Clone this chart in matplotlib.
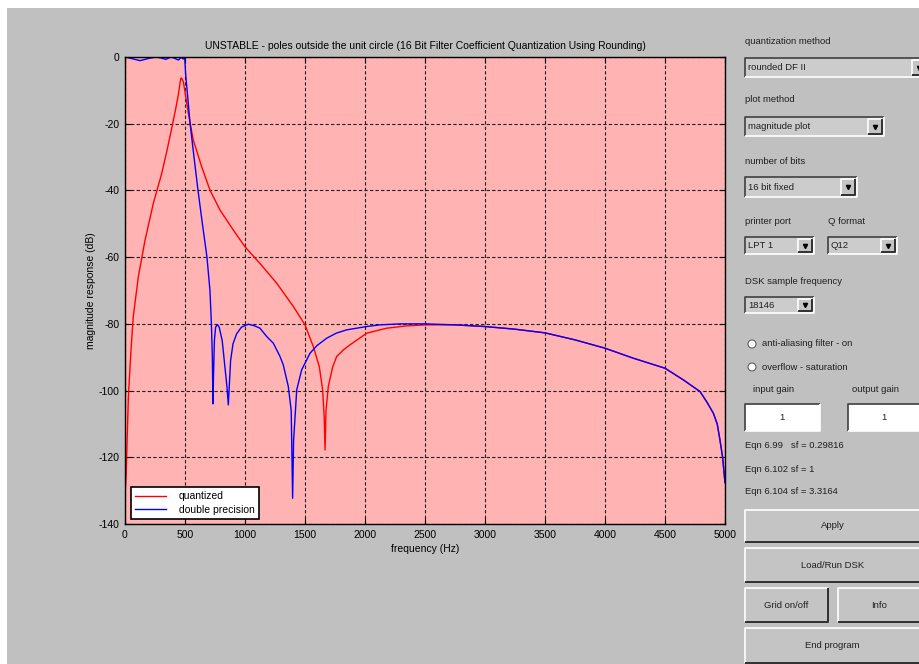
import matplotlib.pyplot as plt
from matplotlib.patches import Rectangle, Circle

plt.rcParams['font.family'] = ['Liberation Sans', 'DejaVu Sans']
plt.rcParams['axes.unicode_minus'] = False

# double precision response (Hz, dB)
f_double = [0, 60, 125, 200, 260, 300, 340, 385, 420, 445, 470, 485, 498, 505,
            542, 575, 608, 645, 683, 708, 720, 728, 733, 738, 745, 755, 770,
            785, 810, 830, 850, 861, 870, 880, 900, 930, 970, 1028, 1080, 1125,
            1181, 1236, 1292, 1319, 1361, 1385, 1397, 1405, 1431, 1472, 1542,
            1600, 1681, 1760, 1847, 2014, 2125, 2300, 2500, 2750, 3000, 3250,
            3500, 3750, 4000, 4236, 4500, 4653, 4792, 4850, 4903, 4935, 4958,
            4980, 5000]
db_double = [0, -0.5, -1.1, -0.4, 0, -0.3, -0.7, 0, -0.5, -0.9, -0.1, -0.6, -0.3, -5,
             -19.8, -30, -39.9, -50, -60, -70, -80, -90, -104, -95, -85, -81, -80.2,
             -81, -85, -92, -99, -104.3, -98, -91, -86, -83, -81, -80.1, -80.6, -81.3,
             -83.8, -85.8, -89.8, -92.3, -98.8, -106, -132.3, -115, -99.8, -93.8, -88.8,
             -86.5, -84.3, -82.8, -81.8, -80.8, -80.3, -80.0, -80.0, -80.3, -80.8, -81.6,
             -82.7, -84.8, -87.3, -90.3, -93.3, -96.8, -100.3, -103.5, -106.8, -110, -114.8,
             -120, -127.6]

# quantized response (Hz, dB)
f_quant = [0, 10, 20, 28, 50, 69, 111, 167, 236, 306, 350, 389, 420, 444, 460,
           467, 475, 486, 500, 528, 569, 639, 708, 792, 903, 1000, 1125, 1264,
           1403, 1500, 1569, 1619, 1647, 1660, 1667, 1675, 1694, 1730, 1764, 1820,
           1875, 2014, 2181, 2347, 2514, 2750, 3000, 3250, 3500, 3750, 4000, 4236,
           4500, 4653, 4792, 4850, 4903, 4935, 4958, 4980, 5000]
db_quant = [-132, -125, -112, -102, -87.8, -77.8, -65.9, -54.9, -43.9, -34.9, -28, -21.4, -16, -11.4, -7.5,
            -6.3, -6.5, -7.4, -10.5, -16.9, -24.9, -32.9, -39.9, -45.9, -51.9, -56.9, -61.9, -67.8,
            -74.8, -80.3, -86.8, -92.8, -99.8, -108, -117.8, -106, -98.8, -93, -89.8, -87.8,
            -86.3, -82.8, -81.3, -80.6, -80.3, -80.3, -80.8, -81.6, -82.7, -84.8, -87.3, -90.3,
            -93.3, -96.8, -100.3, -103.5, -106.8, -110, -114.8, -120, -127.6]

x_ticks = [0, 500, 1000, 1500, 2000, 2500, 3000, 3500, 4000, 4500, 5000]
y_ticks = [0, -20, -40, -60, -80, -100, -120, -140]

W, H = 920, 664
fig = plt.figure(figsize=(W / 100, H / 100), dpi=100, facecolor='#c0c0c0')

# white border on top and left of the screenshot
fig.patches.append(Rectangle((0, 1 - 8 / H), 1, 8 / H, transform=fig.transFigure,
                             facecolor='white', edgecolor='none', zorder=-1))
fig.patches.append(Rectangle((0, 0), 7 / W, 1, transform=fig.transFigure,
                             facecolor='white', edgecolor='none', zorder=-1))

ax = fig.add_axes([125 / W, (H - 524) / H, 600 / W, 467 / H])
ax.set_facecolor('#ffb3b3')
ax.plot(f_quant, db_quant, color='red', lw=1, label='quantized')
ax.plot(f_double, db_double, color='blue', lw=1, label='double precision')
ax.set_xlim(0, 5000)
ax.set_ylim(-140, 0)
ax.set_xticks(x_ticks)
ax.set_yticks(y_ticks)
ax.tick_params(direction='in', top=True, right=True, length=4, labelsize=7.5, pad=4)
ax.grid(True, color='#202020', linestyle=(0, (3, 2)), lw=0.8)
for s in ax.spines.values():
    s.set_linewidth(1)
ax.set_title('UNSTABLE - poles outside the unit circle (16 Bit Filter Coefficient Quantization Using Rounding)',
             fontsize=7.5, pad=6)
ax.set_xlabel('frequency (Hz)', fontsize=7.5, labelpad=3)
ax.set_ylabel('magnitude response (dB)', fontsize=7.5, labelpad=2)
leg = ax.legend(loc='lower left', bbox_to_anchor=(6 / 600, 5 / 467), borderaxespad=0,
                fontsize=7.5, fancybox=False, edgecolor='black', framealpha=1,
                handlelength=3, handletextpad=1.2, borderpad=0.4, labelspacing=0.35)
leg.get_frame().set_linewidth(1.2)

# GUI controls on the right, drawn in pixel coordinates
gui = fig.add_axes([0, 0, 1, 1])
gui.set_xlim(0, W)
gui.set_ylim(H, 0)
gui.axis('off')
gui.patch.set_alpha(0)

txt_kw = dict(fontsize=6.8, color='#202020', va='center')


def label(x, y, s, ha='left'):
    gui.text(x, y, s, ha=ha, **txt_kw)


def sunken(x0, y0, x1, y1, face):
    gui.add_patch(Rectangle((x0, y0), x1 - x0, y1 - y0, facecolor=face, edgecolor='none'))
    gui.plot([x0, x0, x1], [y1, y0, y0], color='#404040', lw=1.2, solid_capstyle='butt')
    gui.plot([x0, x1, x1], [y1, y1, y0], color='white', lw=1.2, solid_capstyle='butt')


def raised(x0, y0, x1, y1, face='#c4c4c4'):
    gui.add_patch(Rectangle((x0, y0), x1 - x0, y1 - y0, facecolor=face, edgecolor='none'))
    gui.plot([x0, x0, x1], [y1, y0, y0], color='white', lw=1.2, solid_capstyle='butt')
    gui.plot([x0, x1, x1], [y1, y1, y0], color='#303030', lw=1.4, solid_capstyle='butt')


def popup(x0, y0, x1, y1, s):
    sunken(x0, y0, x1, y1, '#cccccc')
    raised(x1 - 16, y0 + 2, x1 - 2, y1 - 2)
    gui.plot(x1 - 9, (y0 + y1) / 2, marker='v', color='black', ms=3)
    label(x0 + 3, (y0 + y1) / 2, s)


def button(x0, y0, x1, y1, s):
    raised(x0, y0, x1, y1)
    label((x0 + x1) / 2, (y0 + y1) / 2, s, ha='center')


label(745, 42, 'quantization method')
popup(745, 58, 928, 77, 'rounded DF II')
label(745, 100, 'plot method')
popup(745, 117, 884, 136, 'magnitude plot')
label(745, 162, 'number of bits')
popup(745, 177, 857, 197, '16 bit fixed')
label(745, 222, 'printer port')
label(828, 222, 'Q format')
popup(745, 237, 814, 254, 'LPT 1')
popup(828, 237, 897, 254, 'Q12')
label(745, 282, 'DSK sample frequency')
popup(745, 297, 814, 313, '18146')

for yy, s in [(344, 'anti-aliasing filter - on'), (367, 'overflow - saturation')]:
    gui.add_patch(Circle((752, yy), 4, facecolor='white', edgecolor='#606060', lw=0.8))
    label(762, yy, s)

label(753, 389, 'input gain')
label(852, 389, 'output gain')
sunken(745, 404, 820, 431, 'white')
sunken(848, 404, 928, 431, 'white')
label(782, 417, '1', ha='center')
label(884, 417, '1', ha='center')

label(745, 446, 'Eqn 6.99   sf = 0.29816')
label(745, 469, 'Eqn 6.102 sf = 1')
label(745, 491, 'Eqn 6.104 sf = 3.3164')

button(745, 510, 920, 542, 'Apply')
button(745, 548, 920, 582, 'Load/Run DSK')
button(745, 588, 828, 622, 'Grid on/off')
button(838, 588, 920, 622, 'Info')
button(745, 628, 920, 663, 'End program')

fig.savefig('out.png', dpi=100, facecolor=fig.get_facecolor())
